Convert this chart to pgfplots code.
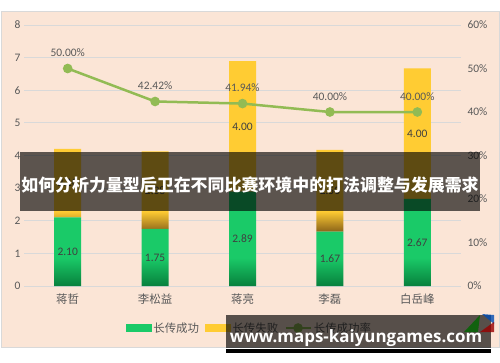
\documentclass[border=0pt]{standalone}
\usepackage{fontspec}
\setmainfont{Carlito}
\newfontfamily\cjk{Noto Sans CJK SC}
\newfontfamily\wmfont{Open Sans}
\usepackage{pgfplots}
\pgfplotsset{compat=1.18}
\usepackage{pgfplotstable}
\definecolor{peach}{HTML}{FBE5D6}
\definecolor{gridc}{HTML}{D9D9D9}
\definecolor{txt}{HTML}{595959}
\definecolor{lbl}{HTML}{404040}
\definecolor{gbright}{RGB}{26,202,104}
\definecolor{gdark}{RGB}{8,128,60}
\definecolor{ybright}{RGB}{255,204,51}
\definecolor{ydark}{RGB}{140,100,25}
\definecolor{lgreen}{RGB}{146,187,84}
\pgfdeclareverticalshading{gbar}{100bp}{color(0bp)=(gdark); color(25bp)=(gdark); color(40bp)=(gbright); color(100bp)=(gbright)}
\pgfdeclareverticalshading{ybar}{100bp}{color(0bp)=(ydark); color(25bp)=(ydark); color(31bp)=(ybright); color(100bp)=(ybright)}
\pgfplotstableread{
x s f sc fc slab flab
0 2.10 2.100 1.050 3.150 2.10 2.10
1 1.75 2.375 0.875 2.938 1.75 2.38
2 2.89 4.000 1.445 4.890 2.89 4.00
3 1.67 2.505 0.835 2.923 1.67 2.50
4 2.67 4.000 1.335 4.670 2.67 4.00
}\data
\begin{document}
\begin{tikzpicture}[x=1bp,y=1bp]
\path[use as bounding box] (0,0) rectangle (500,362);
\fill[white] (0,0) rectangle (500,362);
\filldraw[fill=peach, draw=gridc, line width=0.8bp] (1,15) rectangle (499,351);
\begin{axis}[
  at={(24bp,76bp)}, anchor=south west, scale only axis,
  width=437bp, height=261bp,
  xmin=-0.5, xmax=4.5, ymin=0, ymax=8,
  ytick={0,1,...,8}, xtick={0,1,2,3,4},
  xticklabels={蒋哲,李松益,蒋亮,李磊,白岳峰},
  axis line style={draw=none}, major tick length=0pt,
  ymajorgrids, grid style={gridc, line width=0.8bp},
  /pgf/number format/assume math mode=true,
  yticklabel style={font=\fontsize{11.5}{13}\selectfont, color=txt},
  xticklabel style={font=\fontsize{11.5}{13}\selectfont\cjk, color=txt, yshift=-4bp},
  ybar stacked, bar width=27bp,
]
\addplot[draw=none, shading=gbar] table[x=x,y=s]{\data};
\addplot[draw=none, shading=ybar] table[x=x,y=f]{\data};
\end{axis}
\begin{axis}[
  at={(24bp,76bp)}, anchor=south west, scale only axis,
  width=437bp, height=261bp,
  xmin=-0.5, xmax=4.5, ymin=0, ymax=8,
  hide axis, clip=false,
]
\addplot[draw=none, mark=none, nodes near coords, point meta=explicit symbolic,
  every node near coord/.style={anchor=center, color=lbl, font=\fontsize{11.5}{13}\selectfont}]
  table[x=x,y=sc,meta=slab]{\data};
\addplot[draw=none, mark=none, nodes near coords, point meta=explicit symbolic,
  every node near coord/.style={anchor=center, color=lbl, font=\fontsize{11.5}{13}\selectfont}]
  table[x=x,y=fc,meta=flab]{\data};
\end{axis}
\begin{axis}[
  at={(24bp,76bp)}, anchor=south west, scale only axis,
  width=437bp, height=261bp,
  xmin=-0.5, xmax=4.5, ymin=0, ymax=60,
  axis y line*=right, axis x line=none,
  axis line style={draw=none}, major tick length=0pt,
  ytick={0,10,...,60},
  yticklabel={\pgfmathprintnumber{\tick}\%},
  /pgf/number format/assume math mode=true,
  yticklabel style={font=\fontsize{11.5}{13}\selectfont, color=txt, xshift=3bp},
  clip=false,
  legend style={at={(0.516,-0.161)}, anchor=center, draw=none, fill=none,
    font=\fontsize{11.5}{13}\selectfont\cjk, text=txt, legend columns=3,
    /tikz/every even column/.append style={column sep=4bp}},
  legend cell align=left,
]
\addlegendimage{legend image code/.code={\fill[gbright] (0bp,-3.5bp) rectangle (25bp,3.5bp);}}
\addlegendentry{长传成功}
\addlegendimage{legend image code/.code={\fill[ybright] (0bp,-3.5bp) rectangle (25bp,3.5bp);}}
\addlegendentry{长传失败}
\addplot[color=lgreen, line width=2.5bp, mark=*, mark size=3.5bp,
  mark options={fill=lgreen, draw=lgreen},
  legend image code/.code={\draw[line width=2.5bp, lgreen] (0bp,0bp) -- (25bp,0bp); \fill[lgreen] (12.5bp,0bp) circle (3.5bp);},
  point meta=y, nodes near coords={\pgfmathprintnumber[fixed,fixed zerofill,precision=2]{\pgfplotspointmeta}\%},
  every node near coord/.style={anchor=south, yshift=7bp, color=txt, font=\fontsize{11.5}{13}\selectfont}]
  coordinates {(0,50) (1,42.42) (2,41.94) (3,40) (4,40)};
\addlegendentry{长传成功率}
\end{axis}
% banner
\fill[black, opacity=0.63] (20,151) rectangle (480,210);
\node[white, font=\fontsize{17}{20}\selectfont\cjk\bfseries] at (250,177) {如何分析力量型后卫在不同比赛环境中的打法调整与发展需求};
% watermark
\fill[black, opacity=0.65] (226,14) rectangle (491,47);
\fill[black] (226,9) rectangle (491,13);
\node[white, anchor=base, font=\fontsize{17}{20}\selectfont\wmfont\bfseries] at (356,20) {www.maps-kaiyungames.com};
% logo
\fill[teal!60!blue, opacity=0.8] (482,48) -- (494,47) -- (494,38) -- cycle;
\fill[green!40!black, opacity=0.8] (464,30) -- (480,47) -- (478,30) -- cycle;
\fill[red!60!black, opacity=0.8] (480,30) -- (494,40) -- (494,30) -- cycle;
\end{tikzpicture}
\end{document}
